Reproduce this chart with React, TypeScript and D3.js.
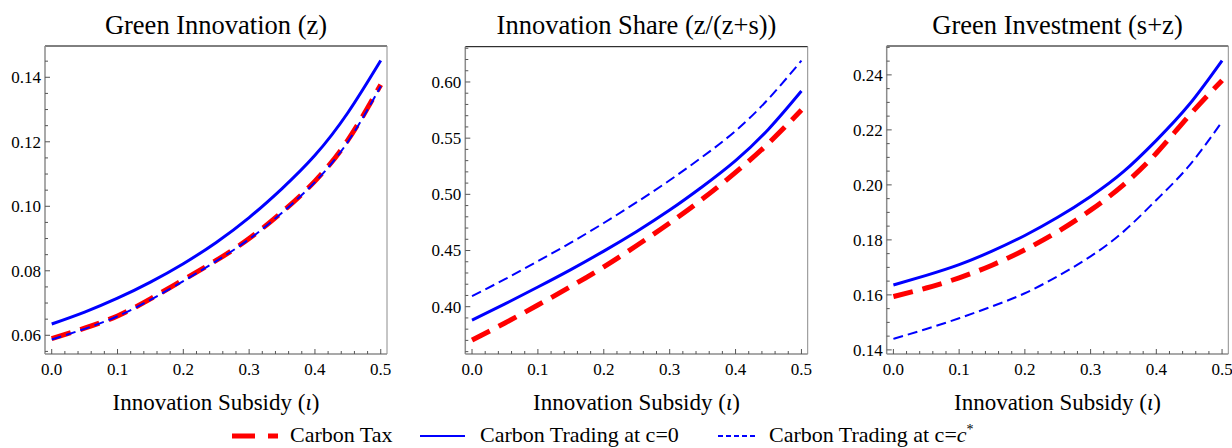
import React from "react";
import * as d3 from "d3";

// ---------- data ----------
const subsidy = [0, 0.05, 0.1, 0.15, 0.2, 0.25, 0.3, 0.35, 0.4, 0.45, 0.5];

// Panel 1: Green Innovation (z)
const innovTax = [0.059, 0.0622, 0.066, 0.0713, 0.0772, 0.0832, 0.09, 0.0982, 0.1078, 0.1205, 0.1377];
const innovTrade0 = [0.0635, 0.0672, 0.0715, 0.0765, 0.0822, 0.0888, 0.0965, 0.1055, 0.1158, 0.129, 0.1452];
const innovTradeStar = [0.0587, 0.062, 0.0659, 0.071, 0.0768, 0.083, 0.0898, 0.098, 0.1075, 0.12, 0.1372];

// Panel 2: Innovation Share (z/(z+s))
const shareTax = [0.3703, 0.3855, 0.4015, 0.418, 0.4355, 0.4545, 0.4745, 0.496, 0.5195, 0.5455, 0.575];
const shareTrade0 = [0.388, 0.4025, 0.4175, 0.433, 0.4495, 0.467, 0.486, 0.507, 0.53, 0.558, 0.592];
const shareTradeStar = [0.4095, 0.4245, 0.4405, 0.457, 0.4745, 0.493, 0.5125, 0.5335, 0.5565, 0.585, 0.619];

// Panel 3: Green Investment (s+z)
const investTax = [0.1594, 0.1625, 0.1662, 0.1708, 0.1764, 0.183, 0.1908, 0.2, 0.2115, 0.2252, 0.238];
const investTrade0 = [0.1636, 0.1671, 0.171, 0.1759, 0.1816, 0.1882, 0.1958, 0.2048, 0.2162, 0.2292, 0.2452];
const investTradeStar = [0.144, 0.1476, 0.1515, 0.1558, 0.1606, 0.1668, 0.174, 0.183, 0.1945, 0.207, 0.223];

const xTicks = [0, 0.1, 0.2, 0.3, 0.4, 0.5];
const xMinorStep = 0.02;

const panels = [
  {
    title: "Green Innovation (z)",
    tax: innovTax, trade0: innovTrade0, tradeStar: innovTradeStar,
    yDomain: [0.0542, 0.1497], yTicks: [0.06, 0.08, 0.1, 0.12, 0.14], yMinorStep: 0.005,
    frame: { left: 45, right: 387, top: 46, bottom: 354 },
  },
  {
    title: "Innovation Share (z/(z+s))",
    tax: shareTax, trade0: shareTrade0, tradeStar: shareTradeStar,
    yDomain: [0.3579, 0.6314], yTicks: [0.4, 0.45, 0.5, 0.55, 0.6], yMinorStep: 0.01,
    frame: { left: 465.3, right: 807.7, top: 46.7, bottom: 354 },
  },
  {
    title: "Green Investment (s+z)",
    tax: investTax, trade0: investTrade0, tradeStar: investTradeStar,
    yDomain: [0.1385, 0.2505], yTicks: [0.14, 0.16, 0.18, 0.2, 0.22, 0.24], yMinorStep: 0.005,
    frame: { left: 886.7, right: 1228.3, top: 46, bottom: 354 },
  },
];

const xDomain = [-0.0102, 0.5095];
const BLUE = "#0000ff";
const RED = "#ff0000";
const FONT = "'Liberation Serif', 'Times New Roman', serif";
const AXIS = "#8c8c8c";

function range(a: number, b: number, step: number) {
  const out: number[] = [];
  const n = Math.round((b - a) / step);
  for (let i = 0; i <= n; i++) out.push(+(a + i * step).toFixed(6));
  return out;
}

function Panel({ p }: { p: any }) {
  const { frame } = p;
  const x = d3.scaleLinear().domain(xDomain).range([frame.left, frame.right]);
  const y = d3.scaleLinear().domain(p.yDomain).range([frame.bottom, frame.top]);
  const line = (vals: number[]) =>
    d3.line<number>().x((_, i) => x(subsidy[i])).y((v) => y(v)).curve(d3.curveNatural)(vals) || "";

  const xMinor = range(0, 0.5, xMinorStep).filter((v) => v >= xDomain[0] && v <= xDomain[1]);
  const y0 = Math.ceil(p.yDomain[0] / p.yMinorStep) * p.yMinorStep;
  const yMinor = range(y0, p.yDomain[1], p.yMinorStep).filter((v) => v >= p.yDomain[0] && v <= p.yDomain[1]);
  const isMajorY = (v: number) => p.yTicks.some((t: number) => Math.abs(t - v) < 1e-6);
  const isMajorX = (v: number) => xTicks.some((t) => Math.abs(t - v) < 1e-6);
  const cx = (frame.left + frame.right) / 2;

  return (
    <g>
      <text x={cx} y={34} textAnchor="middle" fontFamily={FONT} fontSize={26.5} fill="#000">
        {p.title}
      </text>
      {/* frame */}
      <line x1={frame.left} x2={frame.right} y1={frame.top} y2={frame.top} stroke="#000" strokeWidth={1} />
      <line x1={frame.right} x2={frame.right} y1={frame.top} y2={frame.bottom} stroke={AXIS} strokeWidth={1} />
      <line x1={frame.left} x2={frame.left} y1={frame.top} y2={frame.bottom} stroke={AXIS} strokeWidth={1.5} />
      <line x1={frame.left} x2={frame.right} y1={frame.bottom} y2={frame.bottom} stroke={AXIS} strokeWidth={1.5} />
      {/* y ticks */}
      {yMinor.map((v, i) => (
        <line key={"ym" + i} x1={frame.left} x2={frame.left + (isMajorY(v) ? 5 : 3)} y1={y(v)} y2={y(v)} stroke="#555" strokeWidth={1} />
      ))}
      {p.yTicks.map((v: number, i: number) => (
        <text key={"yl" + i} x={frame.left - 4} y={y(v)} dy="0.35em" textAnchor="end" fontFamily={FONT} fontSize={17} fill="#000">
          {v.toFixed(2)}
        </text>
      ))}
      {/* x ticks */}
      {xMinor.map((v, i) => (
        <line key={"xm" + i} x1={x(v)} x2={x(v)} y1={frame.bottom} y2={frame.bottom - (isMajorX(v) ? 5 : 3)} stroke="#555" strokeWidth={1} />
      ))}
      {xTicks.map((v, i) => (
        <text key={"xl" + i} x={x(v)} y={frame.bottom + 21} textAnchor="middle" fontFamily={FONT} fontSize={17} fill="#000">
          {v.toFixed(1)}
        </text>
      ))}
      <text x={cx} y={410} textAnchor="middle" fontFamily={FONT} fontSize={23} fill="#000">
        Innovation Subsidy (<tspan fontStyle="italic">ι</tspan>)
      </text>
      {/* curves */}
      <path d={line(p.tax)} fill="none" stroke={RED} strokeWidth={5} strokeDasharray="20,10" />
      <path d={line(p.trade0)} fill="none" stroke={BLUE} strokeWidth={3} />
      <path d={line(p.tradeStar)} fill="none" stroke={BLUE} strokeWidth={2} strokeDasharray="10,5" />
    </g>
  );
}

export default function App() {
  const ly = 436;
  const tb = 442;
  return (
    <svg width={1232} height={448} style={{ position: "absolute", left: 0, top: 0, background: "#fff" }}>
      <rect width={1232} height={448} fill="#fff" />
      {panels.map((p, i) => (
        <Panel key={i} p={p} />
      ))}
      {/* legend */}
      <g fontFamily={FONT} fontSize={22} fill="#000">
        <line x1={232} x2={278} y1={ly} y2={ly} stroke={RED} strokeWidth={5} strokeDasharray="23,13" />
        <text x={290} y={tb}>Carbon Tax</text>
        <line x1={420} x2={465} y1={ly} y2={ly} stroke={BLUE} strokeWidth={2} />
        <text x={480} y={tb}>Carbon Trading at c=0</text>
        <line x1={718} x2={755} y1={ly} y2={ly} stroke={BLUE} strokeWidth={2} strokeDasharray="5,3" />
        <text x={769} y={tb}>
          Carbon Trading at c=<tspan fontStyle="italic">c</tspan>
          <tspan dy="-8" fontSize={14}>*</tspan>
        </text>
      </g>
    </svg>
  );
}
